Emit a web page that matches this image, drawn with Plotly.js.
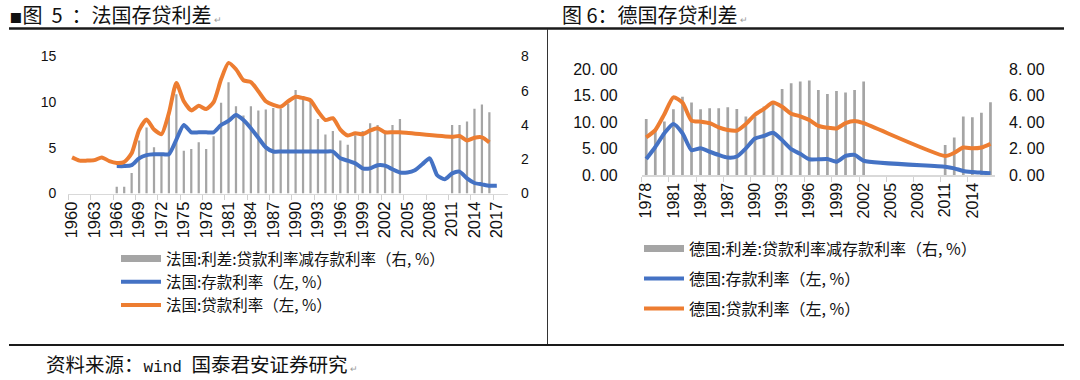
<!DOCTYPE html>
<html>
<head>
<meta charset="utf-8">
<script src="https://cdn.plot.ly/plotly-3.0.1.min.js"></script>
<style>
html,body{margin:0;padding:0;background:#ffffff;}
#chart{width:1080px;height:380px;}
</style>
</head>
<body>
<div id="chart"></div>
<script>
// ---------- France (图5) ----------
const frYears = ["1960","1961","1962","1963","1964","1965","1966","1967","1968","1969",
  "1970","1971","1972","1973","1974","1975","1976","1977","1978","1979",
  "1980","1981","1982","1983","1984","1985","1986","1987","1988","1989",
  "1990","1991","1992","1993","1994","1995","1996","1997","1998","1999",
  "2000","2001","2002","2003","2004","2005","2006","2007","2008","2009",
  "2010","2011","2012","2013","2014","2015","2016","2017","2018"];
const frSpread = [null,null,null,null,null,null,0.4,0.4,1.2,3.1,
  3.85,2.7,2.2,4.55,5.8,2.5,2.6,3.0,2.6,3.35,
  5.3,6.5,5.1,4.55,5.1,4.85,4.9,5.0,4.95,5.25,
  6.05,5.7,5.45,4.35,3.45,3.65,3.1,2.85,3.4,3.65,
  4.1,4.0,3.55,4.0,4.35,null,null,null,null,null,
  null,4.0,4.0,4.2,4.95,5.2,4.75,null,null];
const frDeposit = [null,null,null,null,null,null,3.0,3.0,3.1,3.85,
  4.2,4.3,4.3,4.3,5.9,7.5,6.7,6.7,6.7,6.7,
  7.5,7.95,8.6,8.05,7.15,6.1,5.05,4.6,4.6,4.6,
  4.6,4.6,4.6,4.6,4.6,4.6,3.85,3.6,3.3,2.75,
  2.75,3.1,3.05,2.65,2.3,2.3,2.55,3.2,3.85,2.0,
  1.55,2.2,2.4,1.65,1.15,1.0,0.85,0.85,null];
const frLending = [3.95,3.6,3.6,3.65,3.95,3.55,3.35,3.45,4.4,6.95,
  8.1,7.0,6.5,8.8,12.1,10.1,9.1,9.6,9.25,10.0,
  12.5,14.3,13.6,12.4,12.2,11.2,10.1,9.7,9.5,10.1,
  10.6,10.45,10.2,9.0,8.05,8.25,7.0,6.35,6.6,6.5,
  6.9,7.15,6.7,6.7,6.7,null,null,null,null,null,
  null,6.2,6.3,5.8,6.1,6.15,5.6,null,null];
const frLeftTicks = [0,5,10,15];
const frRightTicks = [0,2,4,6,8];

// ---------- Germany (图6) ----------
const deYears = ["1978","1979","1980","1981","1982","1983","1984","1985","1986","1987",
  "1988","1989","1990","1991","1992","1993","1994","1995","1996","1997",
  "1998","1999","2000","2001","2002","2003","2004","2005","2006","2007",
  "2008","2009","2010","2011","2012","2013","2014","2015","2016"];
const deSpread = [4.24,3.4,4.04,4.97,5.93,5.48,4.97,5.05,5.05,5.13,
  5.0,4.42,4.42,5.18,5.38,6.5,6.94,7.07,7.15,6.44,
  6.14,6.36,6.24,6.44,7.07,null,null,null,null,null,
  null,null,null,2.27,2.83,4.42,4.37,4.72,5.5];
const deDeposit = [3.03,5.3,7.9,9.65,7.9,4.7,5.05,4.4,3.8,3.3,
  3.5,5.05,6.9,7.4,8.0,6.6,4.9,4.0,2.97,2.97,
  3.03,2.5,3.6,3.8,2.7,null,null,null,null,null,
  null,null,null,1.58,1.26,0.76,0.57,0.44,0.32];
const deLending = [7.13,8.5,11.5,14.7,13.7,10.3,10.1,9.8,9.0,8.5,
  8.4,9.65,11.4,12.5,13.7,12.9,11.6,11.1,10.4,9.3,
  8.96,8.8,9.8,10.2,9.8,null,null,null,null,null,
  null,null,null,3.6,4.2,5.2,5.05,5.2,5.9];
const deLeftTickVals = [0,5,10,15,20];
const deLeftTickText = ["0. 00","5. 00","10. 00","15. 00","20. 00"];
const deRightTickVals = [0,2,4,6,8];
const deRightTickText = ["0. 00","2. 00","4. 00","6. 00","8. 00"];

// ---------- names ----------
const frNames = ["法国:利差:贷款利率减存款利率（右, %）","法国:存款利率（左, %）","法国:贷款利率（左, %）"];
const deNames = ["德国:利差:贷款利率减存款利率（右, %）","德国:存款利率（左, %）","德国:贷款利率（左, %）"];

const GRAY = "#A5A5A5", BLUE = "#4472C4", ORANGE = "#ED7D31";
const W = 1080, H = 380;
const px = v => v / W;
const py = v => 1 - v / H;
const NUM = "Liberation Sans, Arial, sans-serif";
const CJK = "Noto Sans CJK SC, sans-serif";
const NB = "\u00a0";
const MARK = "<span style='font-size:9px;color:#9a9a9a'>" + NB + "↵</span>";

const lineCommon = {type:"scatter", mode:"lines", connectgaps:true, line:{width:4, shape:"spline", smoothing:0.6}, hoverinfo:"skip"};

const traces = [
  // France
  {type:"scatter", mode:"lines", x:[null], y:[null], name:frNames[0], line:{color:GRAY, width:7}, xaxis:"x", yaxis:"y", legend:"legend", showlegend:true},
  {type:"bar", x:frYears, y:frSpread, width:0.3, marker:{color:GRAY}, xaxis:"x", yaxis:"y", showlegend:false, hoverinfo:"skip"},
  Object.assign({}, lineCommon, {x:frYears, y:frDeposit, name:frNames[1], line:Object.assign({}, lineCommon.line, {color:BLUE}), xaxis:"x", yaxis:"y2", legend:"legend"}),
  Object.assign({}, lineCommon, {x:frYears, y:frLending, name:frNames[2], line:Object.assign({}, lineCommon.line, {color:ORANGE}), xaxis:"x", yaxis:"y2", legend:"legend"}),
  // Germany
  {type:"scatter", mode:"lines", x:[null], y:[null], name:deNames[0], line:{color:GRAY, width:7}, xaxis:"x2", yaxis:"y3", legend:"legend2", legendgroup:"g1", showlegend:true},
  {type:"bar", x:deYears, y:deSpread, width:0.3, marker:{color:GRAY}, xaxis:"x2", yaxis:"y3", showlegend:false, hoverinfo:"skip"},
  Object.assign({}, lineCommon, {x:deYears, y:deDeposit, name:deNames[1], line:Object.assign({}, lineCommon.line, {color:BLUE}), xaxis:"x2", yaxis:"y4", legend:"legend2", legendgroup:"g2"}),
  Object.assign({}, lineCommon, {x:deYears, y:deLending, name:deNames[2], line:Object.assign({}, lineCommon.line, {color:ORANGE}), xaxis:"x2", yaxis:"y4", legend:"legend2", legendgroup:"g3"})
];

const xCommon = {type:"category", tickson:"boundaries", dtick:3, tick0:0, tickangle:-90,
  ticks:"outside", ticklen:5, tickcolor:"#d0d0d0", tickwidth:1,
  showline:true, linecolor:"#d9d9d9", linewidth:1.5, showgrid:false, zeroline:false, fixedrange:true};
const yCommon = {showgrid:false, zeroline:false, showline:false, ticks:"", fixedrange:true,
  tickfont:{family:NUM, size:14, color:"#111111"}};

const layout = {
  width:W, height:H, margin:{l:0, r:0, t:0, b:0},
  paper_bgcolor:"#ffffff", plot_bgcolor:"rgba(0,0,0,0)",
  showlegend:true, barmode:"overlay",
  xaxis:Object.assign({}, xCommon, {domain:[px(68.3), px(508)], anchor:"y", range:[-0.5, 58.5],
    tickfont:{family:NUM, size:16.5, color:"#111111"}}),
  yaxis:Object.assign({}, yCommon, {domain:[py(193.5), py(56.5)], anchor:"x", side:"right", range:[0,8],
    tickvals:frRightTicks, ticklabelstandoff:12}),
  yaxis2:Object.assign({}, yCommon, {anchor:"x", overlaying:"y", side:"left", range:[0,15],
    tickvals:frLeftTicks, ticklabelstandoff:11}),
  xaxis2:Object.assign({}, xCommon, {domain:[px(641.7), px(995)], anchor:"y3", range:[-0.5, 38.5],
    tickfont:{family:NUM, size:16, color:"#111111"}}),
  yaxis3:Object.assign({}, yCommon, {domain:[py(175), py(69.3)], anchor:"x2", side:"right", range:[0,8],
    tickvals:deRightTickVals, ticktext:deRightTickText, ticklabelstandoff:13,
    tickfont:{family:NUM, size:16, color:"#111111"}}),
  yaxis4:Object.assign({}, yCommon, {anchor:"x2", overlaying:"y3", side:"left", range:[0,20],
    tickvals:deLeftTickVals, ticktext:deLeftTickText, ticklabelstandoff:23,
    tickfont:{family:NUM, size:16, color:"#111111"}}),
  legend:{x:px(116), y:py(242), xanchor:"left", yanchor:"top", bgcolor:"rgba(0,0,0,0)",
    font:{family:CJK, size:15.5, color:"#111111"}, itemwidth:40, tracegroupgap:0, traceorder:"normal"},
  legend2:{x:px(639), y:py(231.5), xanchor:"left", yanchor:"top", bgcolor:"rgba(0,0,0,0)",
    font:{family:CJK, size:16, color:"#111111"}, itemwidth:40, tracegroupgap:6.2, traceorder:"grouped"},
  shapes:[
    {type:"line", xref:"paper", yref:"paper", x0:px(9), x1:px(1064), y0:py(28.5), y1:py(28.5), line:{color:"#1a1a1a", width:2.5}},
    {type:"line", xref:"paper", yref:"paper", x0:px(547.5), x1:px(547.5), y0:py(29), y1:py(345), line:{color:"#333333", width:1}},
    {type:"line", xref:"paper", yref:"paper", x0:px(9), x1:px(1064), y0:py(345), y1:py(345), line:{color:"#1a1a1a", width:2}}
  ],
  annotations:[
    {xref:"paper", yref:"paper", x:px(7), y:py(14), xanchor:"left", yanchor:"middle", showarrow:false,
      text:"<span style='font-family:DejaVu Sans'>▪</span>图" + NB + NB + "5" + NB + NB + "：法国存贷利差" + MARK,
      font:{family:CJK, size:20, color:"#111111"}},
    {xref:"paper", yref:"paper", x:px(560), y:py(14), xanchor:"left", yanchor:"middle", showarrow:false,
      text:"图" + NB + "6：德国存贷利差" + MARK, font:{family:CJK, size:20, color:"#111111"}},
    {xref:"paper", yref:"paper", x:px(44), y:py(363), xanchor:"left", yanchor:"middle", showarrow:false,
      text:"资料来源：<span style='font-family:Liberation Mono, monospace;font-size:16px'>wind" + NB + "</span>国泰君安证券研究" + MARK,
      font:{family:CJK, size:19.5, color:"#111111"}}
  ]
};

Plotly.newPlot("chart", traces, layout, {staticPlot:true, displayModeBar:false});
</script>
</body>
</html>
